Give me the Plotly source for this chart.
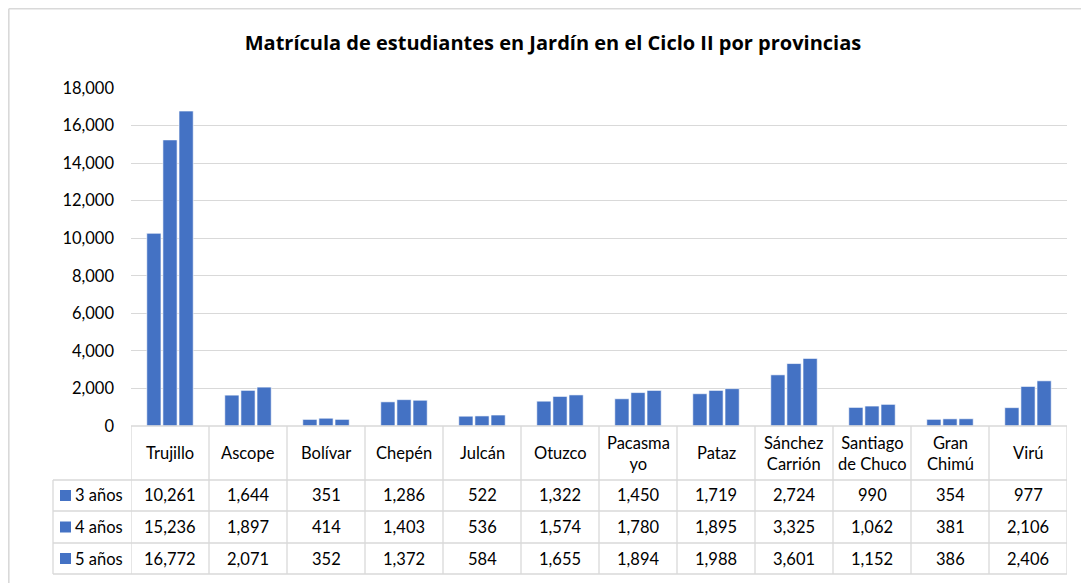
import plotly.graph_objects as go

provincias = ["Trujillo", "Ascope", "Bolívar", "Chepén", "Julcán", "Otuzco",
              "Pacasmayo", "Pataz", "Sánchez Carrión", "Santiago de Chuco",
              "Gran Chimú", "Virú"]
etiquetas = ["Trujillo", "Ascope", "Bolívar", "Chepén", "Julcán", "Otuzco",
             "Pacasma<br>yo", "Pataz", "Sánchez<br>Carrión", "Santiago<br>de Chuco",
             "Gran<br>Chimú", "Virú"]
series = ["3 años", "4 años", "5 años"]
v3 = [10261, 1644, 351, 1286, 522, 1322, 1450, 1719, 2724, 990, 354, 977]
v4 = [15236, 1897, 414, 1403, 536, 1574, 1780, 1895, 3325, 1062, 381, 2106]
v5 = [16772, 2071, 352, 1372, 584, 1655, 1894, 1988, 3601, 1152, 386, 2406]
valores = [v3, v4, v5]

OFF = 8  # default body margin of the html page
W, H = 1089 - OFF, 583 - OFF
# plot area in page pixels
L, R, T, B = 131, 1067, 88, 426
BLUE = "#4472C4"
GRID = "#D9D9D9"
FONT = "Lato"
FS = 16.5

fig = go.Figure()
for name, vals in zip(series, valores):
    fig.add_trace(go.Bar(x=list(range(len(provincias))), y=vals, name=name,
                         marker=dict(color=BLUE, line=dict(color="#FFFFFF", width=0.6)),
                         hovertext=provincias))

def py(p):
    return (B - p) / (B - T)

def pxx(p):
    return (p - L) / (R - L)

shapes = []
annotations = []
line = dict(color=GRID, width=1.3)

# outer chart border (top and left visible)
shapes.append(dict(type="line", xref="paper", yref="paper", x0=pxx(8.8), x1=pxx(1100),
                   y0=py(8.8), y1=py(8.8), line=dict(color=GRID, width=1.6)))
shapes.append(dict(type="line", xref="paper", yref="paper", x0=pxx(8.8), x1=pxx(8.8),
                   y0=py(8.8), y1=py(600), line=dict(color=GRID, width=1.6)))

# table horizontal lines
row_y = [426, 480, 511, 543, 574]
for i, yy in enumerate(row_y):
    x0 = L if i == 0 else 53
    shapes.append(dict(type="line", xref="paper", yref="paper", x0=pxx(x0), x1=pxx(R),
                       y0=py(yy), y1=py(yy), line=line))
# vertical lines
n = len(provincias)
for k in range(n + 1):
    shapes.append(dict(type="line", xref="x", yref="paper", x0=k - 0.5, x1=k - 0.5,
                       y0=py(426), y1=py(574), line=line))
shapes.append(dict(type="line", xref="paper", yref="paper", x0=pxx(53), x1=pxx(53),
                   y0=py(480), y1=py(574), line=line))

# header labels
for k, lab in enumerate(etiquetas):
    annotations.append(dict(x=k, y=py(453), xref="x", yref="paper", text=lab,
                            showarrow=False, font=dict(family=FONT, size=FS, color="#000"),
                            xanchor="center", yanchor="middle"))
# rows
for r, (name, vals) in enumerate(zip(series, valores)):
    yc = (row_y[r + 1] + row_y[r + 2]) / 2
    shapes.append(dict(type="rect", xref="paper", yref="paper", x0=pxx(60), x1=pxx(71),
                       y0=py(yc - 5.5), y1=py(yc + 5.5), fillcolor=BLUE,
                       line=dict(width=0)))
    annotations.append(dict(x=pxx(73), y=py(yc), xref="paper", yref="paper", text=name,
                            showarrow=False, font=dict(family=FONT, size=FS, color="#000"),
                            xanchor="left", yanchor="middle"))
    for k, v in enumerate(vals):
        annotations.append(dict(x=k, y=py(yc), xref="x", yref="paper", text=f"{v:,}",
                                showarrow=False, font=dict(family=FONT, size=FS, color="#000"),
                                xanchor="center", yanchor="middle"))

fig.update_layout(
    width=W, height=H,
    margin=dict(l=L - OFF, r=W - (R - OFF), t=T - OFF, b=H - (B - OFF), pad=0),
    paper_bgcolor="white", plot_bgcolor="white",
    title=dict(text="<b>Matrícula de estudiantes en Jardín en el Ciclo II por provincias</b>",
               x=(553 - OFF) / W, xanchor="center", y=1 - (43 - OFF) / H, yanchor="middle",
               font=dict(family="Open Sans", size=20, color="#000")),
    barmode="group", bargap=0.38, bargroupgap=0.12,
    showlegend=False,
    xaxis=dict(range=[-0.5, n - 0.5], showticklabels=False, showgrid=False,
               zeroline=False, showline=False, fixedrange=True),
    yaxis=dict(range=[0, 18000], dtick=2000, tickformat=",", showgrid=True,
               gridcolor=GRID, gridwidth=1.3, zeroline=False, showline=False,
               ticks="", ticklabelstandoff=16,
               tickfont=dict(family=FONT, size=FS, color="#000")),
    shapes=shapes, annotations=annotations,
)

fig.write_html("out.html")
